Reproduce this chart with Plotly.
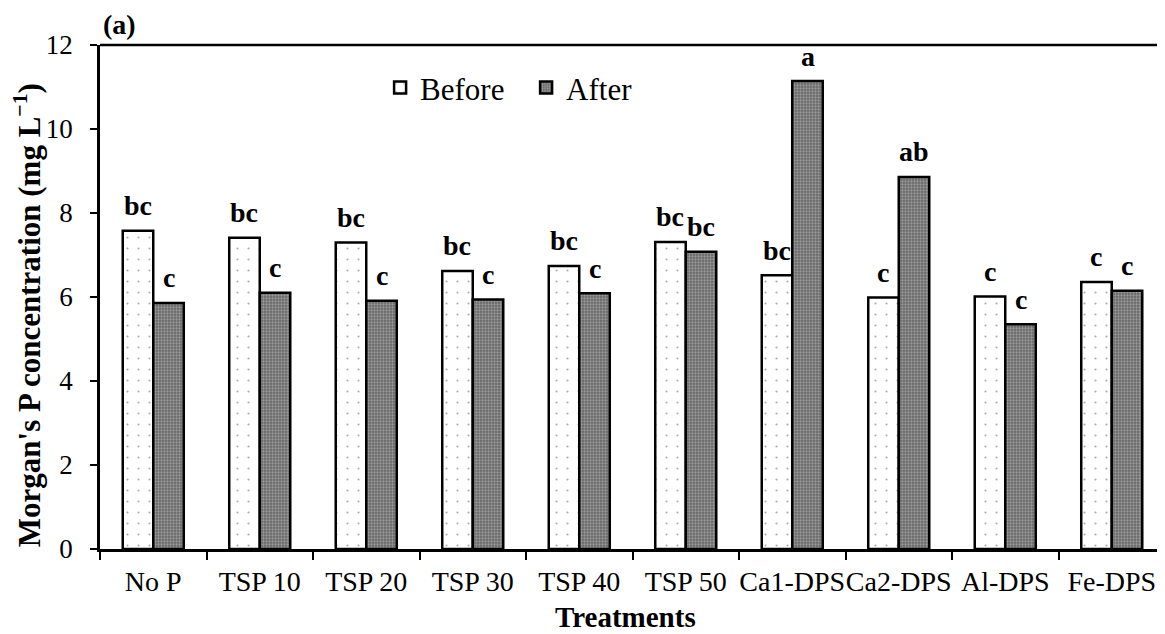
import plotly.graph_objects as go

categories = ["No P", "TSP 10", "TSP 20", "TSP 30", "TSP 40", "TSP 50",
              "Ca1-DPS", "Ca2-DPS", "Al-DPS", "Fe-DPS"]
before = [7.58, 7.41, 7.30, 6.62, 6.74, 7.31, 6.52, 5.99, 6.01, 6.36]
after = [5.86, 6.10, 5.91, 5.94, 6.09, 7.08, 11.14, 8.86, 5.35, 6.15]
before_letters = ["bc", "bc", "bc", "bc", "bc", "bc", "bc", "c", "c", "c"]
after_letters = ["c", "c", "c", "c", "c", "bc", "a", "ab", "c", "c"]
y_ticks = [0, 2, 4, 6, 8, 10, 12]

FONT = "Liberation Serif, Times New Roman, serif"

fig = go.Figure()
fig.add_trace(go.Bar(
    name="Before", x=categories, y=before,
    marker=dict(color="white",
                line=dict(color="black", width=2.5),
                pattern=dict(shape=".", bgcolor="white", fgcolor="#555555",
                             size=11, solidity=0.03, fillmode="overlay")),
))
fig.add_trace(go.Bar(
    name="After", x=categories, y=after,
    marker=dict(color="#666666",
                line=dict(color="black", width=2.5),
                pattern=dict(shape=".", bgcolor="#666666", fgcolor="#d0d0d0",
                             size=3, solidity=0.45, fillmode="overlay")),
))

annotations = []
for c, v, t in zip(categories, before, before_letters):
    annotations.append(dict(x=c, y=v, text=f"<b>{t}</b>", showarrow=False,
                            xshift=-15.3, yshift=25, yanchor="middle",
                            font=dict(family=FONT, size=28, color="black")))
for c, v, t in zip(categories, after, after_letters):
    annotations.append(dict(x=c, y=v, text=f"<b>{t}</b>", showarrow=False,
                            xshift=15.3, yshift=25, yanchor="middle",
                            font=dict(family=FONT, size=28, color="black")))

annotations.append(dict(xref="paper", yref="paper", x=-0.0685, y=0.464,
                        text="<b>Morgan's P concentration (mg L<sup>−1</sup>)</b>",
                        textangle=-90, showarrow=False, xanchor="center", yanchor="middle",
                        font=dict(family=FONT, size=31, color="black")))
annotations.append(dict(xref="paper", yref="paper", x=0.493, y=-0.134,
                        text="<b>Treatments</b>", showarrow=False,
                        xanchor="center", yanchor="middle",
                        font=dict(family=FONT, size=29, color="black")))
annotations.append(dict(xref="paper", yref="paper", x=0.001, y=1.04,
                        text="<b>(a)</b>", showarrow=False,
                        xanchor="left", yanchor="middle",
                        font=dict(family=FONT, size=28, color="black")))

# the page body has an 8px margin, so the figure is sized/offset to compensate
fig.update_layout(
    width=1157, height=626,
    margin=dict(l=92, r=0, t=37, b=85, autoexpand=False),
    paper_bgcolor="white", plot_bgcolor="white",
    barmode="group", bargap=0.427, bargroupgap=0,
    font=dict(family=FONT, color="black"),
    showlegend=True,
    legend=dict(orientation="h", x=0.263, y=0.915, xanchor="left", yanchor="middle",
                entrywidth=101, entrywidthmode="pixels",
                font=dict(family=FONT, size=31, color="black"),
                bgcolor="rgba(0,0,0,0)", traceorder="normal"),
    annotations=annotations,
    shapes=[dict(type="line", xref="paper", yref="paper", x0=0, x1=1, y0=1, y1=1,
                 line=dict(color="black", width=2.5))],
)
fig.update_xaxes(
    type="category", showline=True, linecolor="black", linewidth=2.5,
    ticks="outside", tickson="boundaries", ticklen=8, tickwidth=2, tickcolor="black",
    tickfont=dict(family=FONT, size=28, color="black"), tickangle=0,
    ticklabelstandoff=6, showgrid=False, zeroline=False, automargin=False,
)
fig.update_yaxes(
    range=[0, 12], tickvals=y_ticks, showline=True, linecolor="black", linewidth=2.5,
    ticks="outside", ticklen=7, tickwidth=2, tickcolor="black",
    tickfont=dict(family=FONT, size=27, color="black"),
    ticklabelstandoff=12, showgrid=False, zeroline=False, automargin=False,
)

fig.write_html("out.html")
